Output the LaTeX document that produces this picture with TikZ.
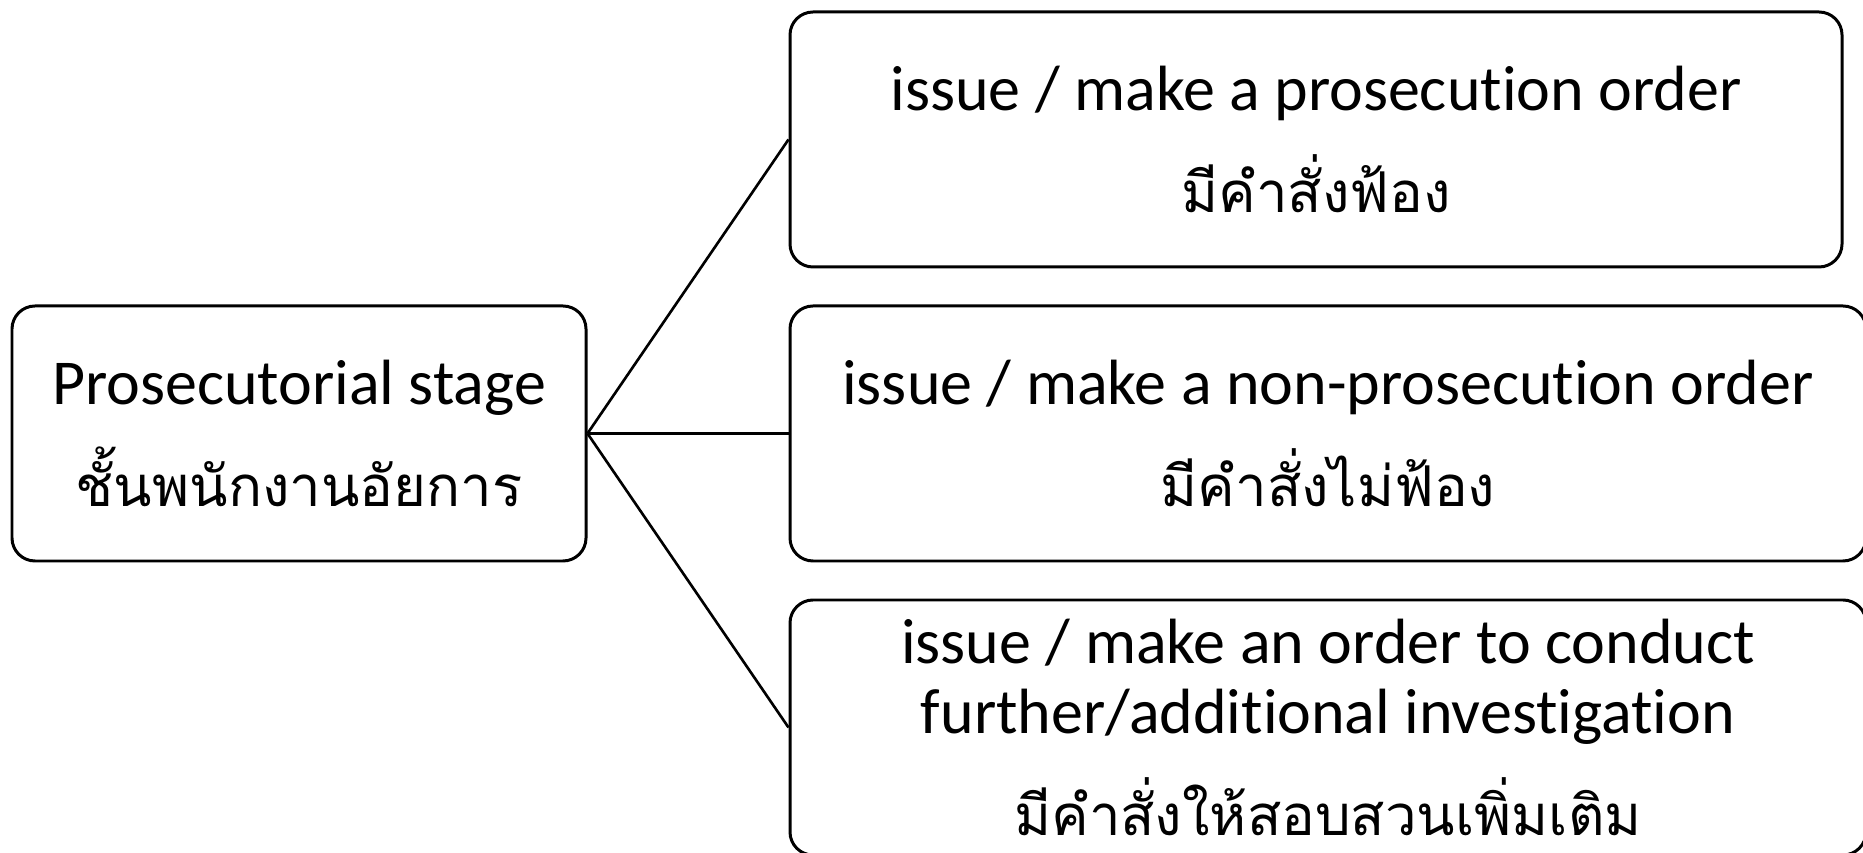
\documentclass[tikz,border=0pt]{standalone}
\usepackage{fontspec}
\setmainfont[Ligatures=NoCommon]{Carlito}
\newfontfamily\thaifont[Script=Thai, Scale=0.88]{Loma}
\usetikzlibrary{positioning}
\newcommand{\stagefont}{\fontsize{18.2}{19.8}\selectfont\lineskiplimit=-50pt\relax}
\tikzstyle{stagebox} = [draw, rectangle, rounded corners=2.3mm, black, line width=0.85pt, minimum height=25.5mm, align=center, inner sep=0pt, font=\stagefont]

\begin{document}
\begin{tikzpicture}[x=1mm, y=-1mm]
            \useasboundingbox (0,0) rectangle (186.3,85.3);
            % Defining nodes
            \node[stagebox, minimum width=57.4mm] (Stage) at (29.9,43.35) {Prosecutorial stage\\[9.4pt] {\thaifont ชั้นพนักงานอัยการ}};
            \node[stagebox, minimum width=105.2mm] (Prosecute) at (131.6,13.95) {issue / make a prosecution order\\[9.4pt] {\thaifont มีคำสั่งฟ้อง}};
            \node[stagebox, minimum width=107.6mm] (NonProsecute) at (132.8,43.35) {issue / make a non-prosecution order\\[9.4pt] {\thaifont มีคำสั่งไม่ฟ้อง}};
            \node[stagebox, minimum width=107.6mm] (Investigate) at (132.8,72.75) {issue / make an order to conduct\\ further/additional investigation\\[9.4pt] {\thaifont มีคำสั่งให้สอบสวนเพิ่มเติม}};

            % Drawing diagram
            \draw[black, line width=0.75pt] (Stage.east) -- (Prosecute.west);
            \draw[black, line width=0.75pt] (Stage.east) -- (NonProsecute.west);
            \draw[black, line width=0.75pt] (Stage.east) -- (Investigate.west);
\end{tikzpicture}
\end{document}
